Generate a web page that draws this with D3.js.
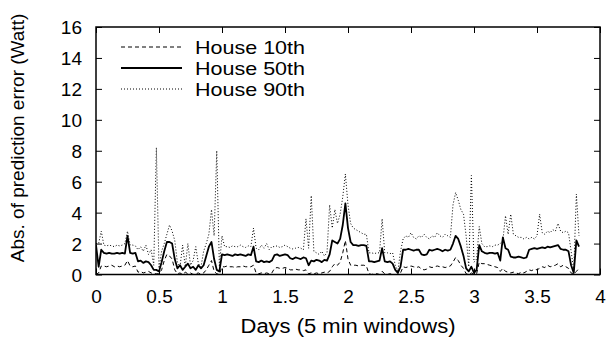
<!DOCTYPE html>
<html>
<head>
<meta charset="utf-8">
<script src="https://cdn.jsdelivr.net/npm/d3@7"></script>
<style>
  body { margin: 0; background: #fff; }
  svg { display: block; font-family: "Liberation Sans", Arial, Helvetica, sans-serif; }
</style>
</head>
<body>
<svg id="chart"></svg>
<script>
// one sample every 30 minutes
const stepDays = 1 / 48

const xTicks = [0, 0.5, 1, 1.5, 2, 2.5, 3, 3.5, 4]
const yTicks = [0, 2, 4, 6, 8, 10, 12, 14, 16]
const seriesNames = ['House 10th', 'House 50th', 'House 90th']

const house10 = [
  0.0, 0.1, 0.55, 0.55, 0.5, 0.55, 0.6, 0.5, 0.55, 0.5,
  0.55, 0.6, 0.9, 0.55, 0.5, 0.55, 0.15, 0.2, 0.1, 0.15,
  0.2, 0.1, 0.05, 0.05, 0.05, 0.3, 0.9, 1.3, 1.2, 1.0,
  0.3, 0.05, 0.1, 0.0, 0.15, 0.05, 0.1, 0.0, 0.05, 0.1,
  0.0, 0.1, 0.3, 0.6, 0.9, 0.2, 0.05, 0.0, 0.5, 0.5,
  0.55, 0.5, 0.5, 0.45, 0.5, 0.5, 0.55, 0.5, 0.5, 0.5,
  0.6, 0.1, 0.05, 0.1, 0.05, 0.1, 0.05, 0.1, 0.4, 0.45,
  0.4, 0.4, 0.45, 0.4, 0.3, 0.3, 0.35, 0.3, 0.3, 0.25,
  0.3, 0.05, 0.1, 0.05, 0.1, 0.05, 0.1, 0.15, 0.1, 0.2,
  0.5, 0.7, 0.6, 0.8, 1.4, 2.2, 1.0, 0.6, 0.6, 0.6,
  0.55, 0.6, 0.6, 0.55, 0.05, 0.0, 0.05, 0.05, 0.0, 0.2,
  0.05, 0.0, 0.05, 0.0, 0.0, 0.0, 0.1, 0.5, 0.45, 0.5,
  0.55, 0.5, 0.45, 0.5, 0.35, 0.3, 0.35, 0.5, 0.45, 0.5,
  0.55, 0.5, 0.5, 0.45, 0.5, 0.55, 0.8, 1.1, 0.9, 0.6,
  0.4, 0.05, 0.0, 0.1, 0.0, 0.05, 0.8, 0.7, 0.7, 0.65,
  0.6, 0.55, 0.5, 0.45, 0.2, 0.4, 0.2, 0.15, 0.1, 0.15,
  0.1, 0.05, 0.15, 0.1, 0.2, 0.3, 0.25, 0.35, 0.3, 0.4,
  0.5, 0.45, 0.6, 0.5, 0.55, 0.6, 0.7, 0.5, 0.6, 0.5,
  0.4, 0.1, 0.0, 0.2, 0.4
]

const house50 = [
  1.9, 0.5, 1.6, 1.4, 1.35, 1.4, 1.35, 1.35, 1.4, 1.35,
  1.4, 1.35, 2.5, 1.4, 1.35, 1.4, 0.85, 0.9, 0.75, 0.85,
  0.8, 0.6, 0.3, 0.3, 0.2, 0.8, 1.5, 2.1, 2.1, 2.0,
  1.0, 0.4, 0.6, 0.3, 0.5, 0.7, 0.4, 0.5, 0.3, 0.6,
  0.4, 0.6, 1.2, 1.8, 2.1, 1.0, 0.3, 0.2, 1.3, 1.25,
  1.3, 1.25, 1.2, 1.3, 1.25, 1.3, 1.25, 1.2, 1.3, 1.25,
  1.8, 0.85, 0.8, 0.9, 0.8, 0.85, 0.8, 0.9, 1.25, 1.3,
  1.2, 1.25, 1.3, 1.25, 1.05, 1.0, 1.1, 1.05, 1.0, 1.1,
  1.05, 0.6, 0.9, 0.85, 0.95, 0.9, 0.8, 0.95, 0.9, 1.3,
  2.2, 2.1, 2.0, 2.3, 3.2, 4.6, 3.0, 2.1, 1.9, 1.9,
  1.85, 1.9, 1.9, 1.85, 0.85, 0.85, 0.8, 0.85, 0.9, 1.7,
  0.85, 0.8, 0.85, 0.7, 0.3, 0.1, 0.5, 1.6, 1.6, 1.65,
  1.6, 1.55, 1.6, 1.6, 1.3, 1.25, 1.3, 1.6, 1.55, 1.6,
  1.65, 1.6, 1.5, 1.6, 1.55, 1.6, 2.0, 2.5, 2.3, 1.8,
  1.2, 0.4, 0.2, 0.5, 0.1, 0.3, 1.9, 1.5, 1.4, 1.35,
  1.4, 1.4, 1.35, 1.4, 0.9, 2.4, 1.7, 1.6, 1.15, 1.1,
  1.1, 1.15, 1.1, 1.05, 1.1, 1.6, 1.65, 1.7, 1.65, 1.7,
  1.75, 1.7, 1.8, 1.75, 1.8, 1.85, 1.9, 1.65, 1.6, 1.6,
  1.5, 0.6, 0.1, 2.2, 1.8
]

const house90 = [
  2.0, 2.0, 2.8, 1.9, 1.85, 1.9, 1.85, 1.8, 1.9, 1.85,
  1.9, 2.0, 2.8, 1.9, 1.9, 1.85, 1.6, 1.8, 1.5, 1.9,
  1.3, 1.6, 0.6, 8.2, 0.4, 1.5, 2.0, 2.6, 3.2, 2.8,
  2.2, 0.8, 0.5, 1.9, 0.5, 2.0, 0.6, 0.9, 1.8, 0.7,
  0.5, 1.5, 2.0, 2.6, 4.2, 2.5, 8.0, 0.5, 2.5, 1.8,
  1.8, 1.75, 1.85, 1.8, 1.8, 1.9, 1.8, 1.75, 1.85, 1.8,
  3.0, 1.7, 1.6, 1.9, 1.7, 2.0, 1.6, 1.8, 1.8, 1.85,
  1.75, 1.8, 1.9, 1.8, 1.7, 1.65, 1.7, 1.75, 1.7, 1.6,
  3.6, 1.7, 5.1, 1.5, 1.4, 1.3, 1.5, 1.2, 1.4, 4.5,
  3.0, 4.2, 3.3, 3.9, 5.0, 6.5, 4.5, 3.3, 3.0, 2.9,
  2.8, 2.7, 2.6, 2.6, 1.4, 1.4, 1.35, 1.4, 1.4, 3.6,
  1.4, 1.4, 1.35, 1.4, 0.6, 0.2, 1.5, 2.3, 2.5, 2.4,
  2.7, 2.4, 2.3, 2.5, 2.4, 2.6, 2.4, 2.3, 2.5, 2.4,
  2.7, 2.5, 2.4, 2.6, 2.5, 2.4, 4.5, 5.3, 4.8, 4.2,
  3.9, 2.5, 0.5, 6.4, 0.8, 1.0, 3.1, 2.0, 1.8, 1.8,
  1.85, 1.8, 1.9, 1.9, 2.0, 2.2, 3.8, 2.6, 3.9, 2.6,
  2.5, 2.4, 2.4, 2.3, 2.4, 2.3, 2.4, 2.3, 2.5, 3.9,
  2.7, 2.6, 2.8, 2.7, 2.9, 2.8, 3.3, 2.8, 2.7, 2.8,
  2.7, 1.5, 0.3, 5.2, 2.5
]

const W = 608, H = 342
const margin = { top: 27, right: 8, bottom: 67.5, left: 96 }
const innerW = W - margin.left - margin.right
const innerH = H - margin.top - margin.bottom

const svg = d3.select('#chart').attr('width', W).attr('height', H)
const g = svg.append('g').attr('transform', `translate(${margin.left},${margin.top})`)

const x = d3.scaleLinear().domain([0, 4]).range([0, innerW])
const y = d3.scaleLinear().domain([0, 16]).range([innerH, 0])

const fmt = d => String(d)

// axes, ticks pointing inwards like gnuplot, mirrored on top and right
const bottom = g.append('g').attr('transform', `translate(0,${innerH})`)
  .call(d3.axisBottom(x).tickValues(xTicks).tickFormat(fmt).tickSize(-6).tickPadding(15))
const left = g.append('g')
  .call(d3.axisLeft(y).tickValues(yTicks).tickFormat(fmt).tickSize(-6).tickPadding(14))
g.append('g').call(d3.axisTop(x).tickValues(xTicks).tickFormat('').tickSize(-6))
g.append('g').attr('transform', `translate(${innerW},0)`)
  .call(d3.axisRight(y).tickValues(yTicks).tickFormat('').tickSize(-6))

g.selectAll('.domain').remove()
g.selectAll('.tick line').attr('stroke', '#000').attr('stroke-width', 1)
g.selectAll('.tick text').attr('fill', '#000').attr('font-size', 19)
  .attr('font-family', '"Liberation Sans", Arial, sans-serif')
left.selectAll('.tick text').attr('dy', '0.36em')

const clip = svg.append('clipPath').attr('id', 'plotclip')
  .append('rect').attr('width', innerW).attr('height', innerH)

const lineGen = d3.line()
  .x((d, i) => x(i * stepDays))
  .y(d => y(d))

const styles = [
  { data: house10, width: 1, dash: '4,3' },
  { data: house50, width: 1.8, dash: null },
  { data: house90, width: 1, dash: '1,2' }
]

const plot = g.append('g').attr('clip-path', 'url(#plotclip)')
styles.forEach(s => {
  plot.append('path')
    .datum(s.data)
    .attr('d', lineGen)
    .attr('fill', 'none')
    .attr('stroke', '#000')
    .attr('stroke-width', s.width)
    .attr('stroke-dasharray', s.dash)
    .attr('stroke-linejoin', 'round')
})

// frame
g.append('rect')
  .attr('width', innerW).attr('height', innerH)
  .attr('fill', 'none').attr('stroke', '#000').attr('stroke-width', 1.5)

// legend
const legend = g.append('g').attr('transform', 'translate(25,20)')
styles.forEach((s, i) => {
  const row = legend.append('g').attr('transform', `translate(0,${i * 21})`)
  row.append('line')
    .attr('x1', 0).attr('x2', 61).attr('y1', 0).attr('y2', 0)
    .attr('stroke', '#000')
    .attr('stroke-width', s.width)
    .attr('stroke-dasharray', s.dash)
  row.append('text')
    .attr('x', 74).attr('y', 7)
    .attr('font-size', 19)
    .attr('textLength', 110).attr('lengthAdjust', 'spacingAndGlyphs')
    .text(seriesNames[i])
})

// axis titles
svg.append('text')
  .attr('x', margin.left + innerW / 2).attr('y', 333)
  .attr('text-anchor', 'middle').attr('font-size', 20)
  .attr('textLength', 215).attr('lengthAdjust', 'spacingAndGlyphs')
  .text('Days (5 min windows)')

svg.append('text')
  .attr('transform', 'translate(24,138) rotate(-90)')
  .attr('text-anchor', 'middle').attr('font-size', 19)
  .text('Abs. of prediction error (Watt)')
</script>
</body>
</html>
